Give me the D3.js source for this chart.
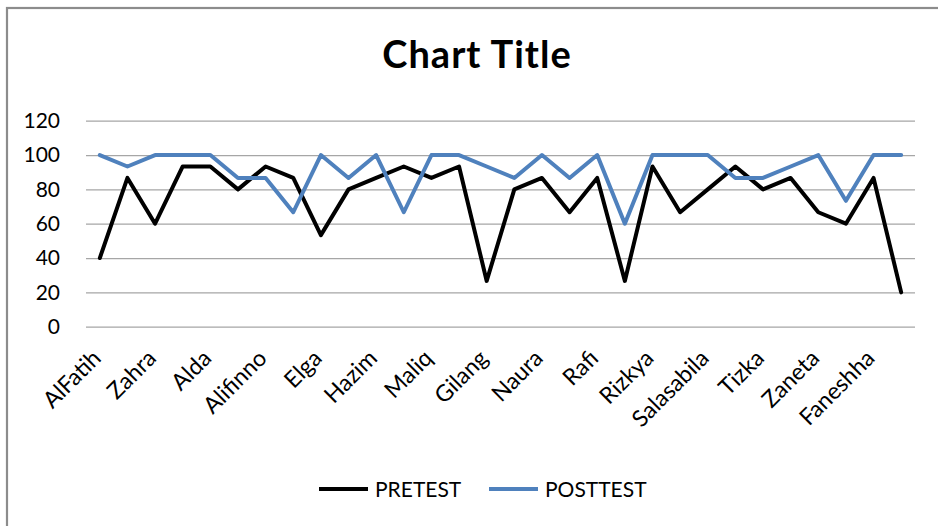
<!DOCTYPE html>
<html>
<head>
<meta charset="utf-8">
<script src="https://cdn.jsdelivr.net/npm/d3@7"></script>
<style>
  html, body { margin: 0; padding: 0; background: #fff; }
  svg { display: block; }
  text { font-family: Lato, "Open Sans", sans-serif; fill: #000; }
</style>
</head>
<body>
<svg id="chart" width="938" height="526"></svg>
<script>
// ---- data ----
// 30 students; only every other name is printed on the axis (hidden ones are placeholders)
const categories = [
  "AlFatih", "(2)", "Zahra", "(4)", "Alda", "(6)", "Alifinno", "(8)", "Elga", "(10)",
  "Hazim", "(12)", "Maliq", "(14)", "Gilang", "(16)", "Naura", "(18)", "Rafi", "(20)",
  "Rizkya", "(22)", "Salasabila", "(24)", "Tizka", "(26)", "Zaneta", "(28)", "Faneshha", "(30)"
];
const pretest = [40, 86.67, 60, 93.33, 93.33, 80, 93.33, 86.67, 53.33, 80,
                 86.67, 93.33, 86.67, 93.33, 26.67, 80, 86.67, 66.67, 86.67, 26.67,
                 93.33, 66.67, 80, 93.33, 80, 86.67, 66.67, 60, 86.67, 20];
const posttest = [100, 93.33, 100, 100, 100, 86.67, 86.67, 66.67, 100, 86.67,
                  100, 66.67, 100, 100, 93.33, 86.67, 100, 86.67, 100, 60,
                  100, 100, 100, 86.67, 86.67, 93.33, 100, 73.33, 100, 100];
const yTicks = [0, 20, 40, 60, 80, 100, 120];
const seriesNames = ["PRETEST", "POSTTEST"];
const seriesColors = ["#000000", "#4f81bd"];

// ---- layout ----
const svg = d3.select("#chart");
const plot = { left: 86, right: 915, top: 120.7, bottom: 326.7 };

// outer chart border (top + left visible)
svg.append("rect")
  .attr("x", 7).attr("y", 8).attr("width", 960).attr("height", 560)
  .attr("fill", "none").attr("stroke", "#8c8c8c").attr("stroke-width", 2.2);

// title
svg.append("text")
  .attr("x", 477).attr("y", 68)
  .attr("text-anchor", "middle")
  .style("font-size", "38px").style("font-weight", "bold")
  .style("letter-spacing", "1px")
  .text("Chart Title");

const x = d3.scalePoint().domain(categories).range([plot.left, plot.right]).padding(0.5);
const y = d3.scaleLinear().domain([0, 120]).range([plot.bottom, plot.top]);

// gridlines
const grid = svg.append("g").attr("transform", `translate(${plot.left},0)`)
  .call(d3.axisLeft(y).tickValues(yTicks).tickSize(-(plot.right - plot.left)).tickFormat(""));
grid.select(".domain").remove();
grid.selectAll("line").attr("stroke", "#a6a6a6").attr("stroke-width", 1.3);

// y axis labels
const yAx = svg.append("g").attr("transform", `translate(${plot.left},0)`)
  .call(d3.axisLeft(y).tickValues(yTicks).tickSize(0).tickPadding(26));
yAx.select(".domain").remove();
yAx.selectAll("text").style("font-size", "21px").attr("fill", "#000");

// x axis labels
const xAx = svg.append("g").attr("transform", `translate(0,${plot.bottom})`)
  .call(d3.axisBottom(x).tickValues(categories.filter((d, i) => i % 2 === 0)).tickSize(0));
xAx.select(".domain").remove();
xAx.selectAll("text")
  .style("font-size", "23px")
  .attr("fill", "#000")
  .attr("text-anchor", "end")
  .attr("y", 0).attr("dy", 0)
  .attr("transform", "translate(2,33) rotate(-45)");

// lines
const line = d3.line().x((d, i) => x(categories[i])).y(d => y(d));
[pretest, posttest].forEach((vals, k) => {
  svg.append("path")
    .datum(vals)
    .attr("d", line)
    .attr("fill", "none")
    .attr("stroke", seriesColors[k])
    .attr("stroke-width", 4)
    .attr("stroke-linejoin", "round")
    .attr("stroke-linecap", "round");
});

// legend
const legendItems = [
  { name: seriesNames[0], color: seriesColors[0], x: 319 },
  { name: seriesNames[1], color: seriesColors[1], x: 489 }
];
const lg = svg.append("g");
legendItems.forEach(it => {
  lg.append("line")
    .attr("x1", it.x).attr("x2", it.x + 49)
    .attr("y1", 489).attr("y2", 489)
    .attr("stroke", it.color).attr("stroke-width", 4);
  lg.append("text")
    .attr("x", it.x + 56).attr("y", 497)
    .style("font-size", "21px")
    .text(it.name);
});
</script>
</body>
</html>
